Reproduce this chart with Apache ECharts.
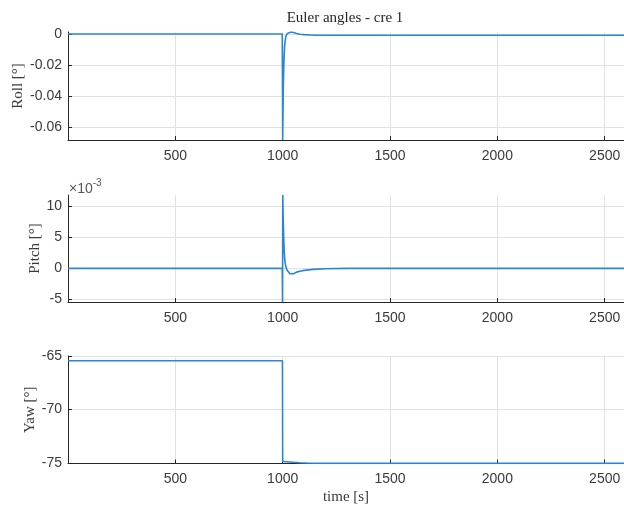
<!DOCTYPE html>
<html>
<head>
<meta charset="utf-8">
<script src="https://cdn.jsdelivr.net/npm/echarts@6/dist/echarts.min.js"></script>
<style>
  html, body { margin: 0; padding: 0; background: #ffffff; }
  #chart { width: 624px; height: 507px; }
</style>
</head>
<body>
<div id="chart"></div>
<script>
// Euler angle time histories (degrees) around the manoeuvre at t = 1000 s
const rollTime = [0, 998, 999.3, 1000, 1001.5, 1003, 1006, 1009, 1012, 1016, 1022, 1030, 1040, 1050, 1065, 1080, 1100, 1130, 1160, 1200, 2590];
const rollDeg  = [0, 0, -0.035, -0.0684, -0.05, -0.034, -0.017, -0.008, -0.004, -0.001, 0.0004, 0.0011, 0.0013, 0.001, 0.0003, -0.0002, -0.0004, -0.0006, -0.0008, -0.0008, -0.0008];

// pitch is stored in units of 1e-3 degrees
const pitchTime = [0, 998, 999.5, 1000.5, 1002.5, 1005, 1007, 1009, 1012, 1017, 1022, 1028, 1034, 1040, 1050, 1065, 1080, 1100, 1130, 1160, 1200, 1300, 2590];
const pitchE3   = [0, 0, -5.4, 11.8, 8.0, 4.8, 3.0, 1.8, 0.8, 0, -0.35, -0.6, -0.85, -0.97, -0.85, -0.6, -0.45, -0.32, -0.2, -0.12, -0.05, 0, 0];

const yawTime = [0, 999, 1000, 1020, 1050, 1080, 1110, 1150, 1200, 2590];
const yawDeg  = [-65.45, -65.45, -74.85, -74.88, -74.93, -74.97, -75.0, -75.02, -75.03, -75.03];

// tick positions
const timeTicks  = [500, 1000, 1500, 2000, 2500];
const rollTicks  = [-0.06, -0.04, -0.02, 0];
const pitchTicks = [-5, 0, 5, 10];
const yawTicks   = [-75, -70, -65];

const INK = '#262626';
const LABEL = '#3a3a3a';
const GRIDLINE = '#e2e2e2';
const LINE = '#2a86d2';
const SANS = 'Liberation Sans';
const SERIF = 'Liberation Serif';

function zip(xs, ys) { return xs.map((x, i) => [x, ys[i]]); }

function timeAxis(idx, withName) {
  const ax = {
    type: 'value', gridIndex: idx, min: 0, max: 2590,
    axisLine: { show: true, onZero: false, lineStyle: { color: INK, width: 1 } },
    axisTick: { show: true, inside: true, length: 4, customValues: timeTicks, lineStyle: { color: INK } },
    axisLabel: { customValues: timeTicks, fontFamily: SANS, fontSize: 14, color: LABEL, margin: 9,
                 formatter: v => String(v) },
    splitLine: { show: true, lineStyle: { color: GRIDLINE, width: 1 } }
  };
  if (withName) {
    ax.name = 'time [s]';
    ax.nameLocation = 'middle';
    ax.nameGap = 26;
    ax.nameMoveOverlap = false;
    ax.nameTextStyle = { fontFamily: SERIF, fontSize: 15, color: LABEL };
  }
  return ax;
}

function angleAxis(idx, name, gap, min, max, ticks) {
  return {
    type: 'value', gridIndex: idx, min: min, max: max,
    name: name, nameLocation: 'middle', nameGap: gap, nameRotate: 90, nameMoveOverlap: false,
    nameTextStyle: { fontFamily: SERIF, fontSize: 15, color: LABEL },
    axisLine: { show: true, onZero: false, lineStyle: { color: INK, width: 1 } },
    axisTick: { show: true, inside: true, length: 4, customValues: ticks, lineStyle: { color: INK } },
    axisLabel: { customValues: ticks, fontFamily: SANS, fontSize: 14, color: LABEL, margin: 6,
                 formatter: v => String(Math.round(v * 1000) / 1000) },
    splitLine: { show: true, lineStyle: { color: GRIDLINE, width: 1 } }
  };
}

function trace(idx, data) {
  return {
    type: 'line', xAxisIndex: idx, yAxisIndex: idx, data: data,
    showSymbol: false, symbol: 'none', smooth: false,
    lineStyle: { color: LINE, width: 1.6 }, animation: false
  };
}

function panel(top, height) {
  return { left: 68, right: 0, top: top, height: height, containLabel: false, outerBoundsMode: 'none' };
}

const chart = echarts.init(document.getElementById('chart'), null, { renderer: 'canvas' });
chart.setOption({
  backgroundColor: '#ffffff',
  animation: false,
  grid: [panel(32, 108), panel(195, 107), panel(356, 107.5)],
  xAxis: [timeAxis(0, false), timeAxis(1, false), timeAxis(2, true)],
  yAxis: [
    angleAxis(0, 'Roll [°]', 42, -0.0684, 0.0013, rollTicks),
    angleAxis(1, 'Pitch [°]', 25, -5.4, 11.8, pitchTicks),
    angleAxis(2, 'Yaw [°]', 30, -75.04, -65, yawTicks)
  ],
  series: [
    trace(0, zip(rollTime, rollDeg)),
    trace(1, zip(pitchTime, pitchE3)),
    trace(2, zip(yawTime, yawDeg))
  ],
  graphic: [
    { type: 'text', x: 345, y: 18,
      style: { text: 'Euler angles - cre 1', fontFamily: SERIF, fontSize: 15, fill: INK,
               align: 'center', verticalAlign: 'middle' } },
    { type: 'text', x: 69, y: 187,
      style: { text: '{a|×10}{b|-3}', verticalAlign: 'middle', align: 'left',
               rich: { a: { fontFamily: SANS, fontSize: 14, fill: '#555555', padding: [5, 0, 0, 0] },
                       b: { fontFamily: SANS, fontSize: 10, fill: '#555555', padding: [0, 0, 7, 0] } } } }
  ]
});
</script>
</body>
</html>
